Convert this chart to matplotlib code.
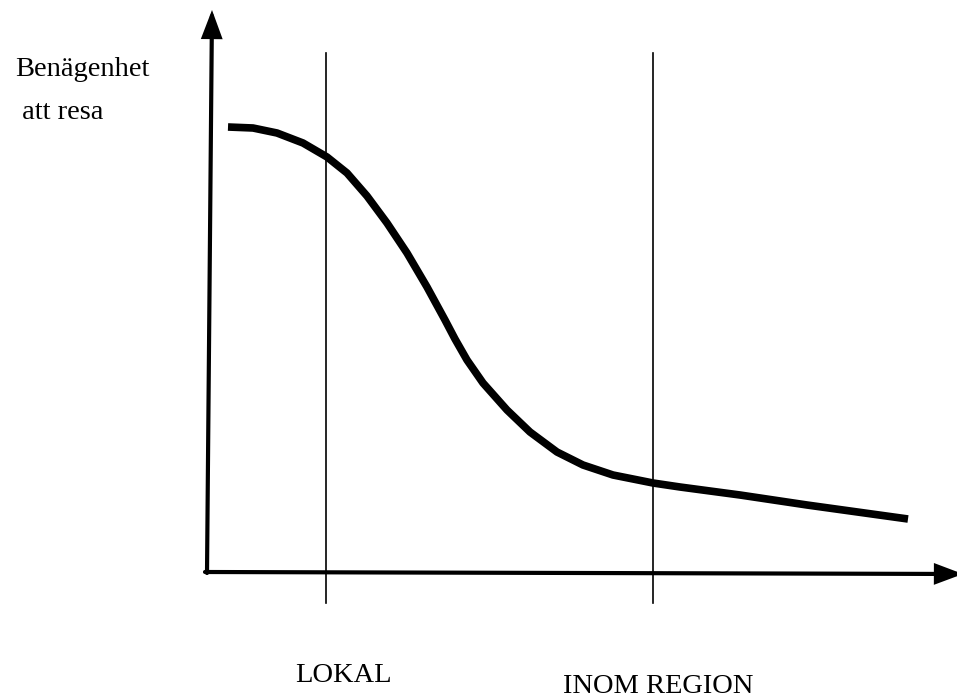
import matplotlib.pyplot as plt

# kurva: benägenhet att resa mot avstånd (läst ur bilden, pixelkoordinater)
curve_x = [228, 253, 277, 303, 327, 347, 367, 387, 407, 427, 445, 455, 467,
           483, 507, 530, 557, 583, 613, 653, 680, 740, 807, 908]
curve_y = [127, 128, 133, 143, 157, 173, 196, 223, 253, 287, 320, 339, 360,
           383, 410, 432, 452, 465, 475, 483, 487, 495, 505, 519]

# gränser för zonerna
zone_x = [326, 653]
zone_top, zone_bottom = 53, 603

ylabel_lines = ["Benägenhet", " att resa"]
zone_labels = ["LOKAL", "INOM REGION"]

fig = plt.figure(figsize=(9.57, 6.99), dpi=100)
ax = fig.add_axes([0, 0, 1, 1])
ax.set_xlim(0, 957)
ax.set_ylim(699, 0)
ax.axis('off')

# axlar med pilar
arrow = dict(arrowstyle='-|>,head_length=0.8,head_width=0.3', lw=3,
             color='black', mutation_scale=19, shrinkA=0, shrinkB=0,
             joinstyle='miter')
ax.annotate('', xy=(212, 10), xytext=(207, 573), arrowprops=arrow,
            annotation_clip=False)
ax.annotate('', xy=(963, 574), xytext=(205, 572), arrowprops=arrow,
            annotation_clip=False)

# zongränser
for zx in zone_x:
    ax.plot([zx, zx], [zone_top, zone_bottom], color='black', lw=1.2)

ax.plot(curve_x, curve_y, color='black', lw=5.5, solid_capstyle='butt',
        solid_joinstyle='round')

font = dict(family='Liberation Serif', fontsize=20.5, color='black')
ax.text(15, 76, ylabel_lines[0], va='baseline', ha='left', **font)
ax.text(15, 119, ylabel_lines[1], va='baseline', ha='left', **font)
ax.text(295, 682, zone_labels[0], va='baseline', ha='left', **font)
ax.text(563, 693, zone_labels[1], va='baseline', ha='left', **font)

fig.savefig("out.png", dpi=100)
